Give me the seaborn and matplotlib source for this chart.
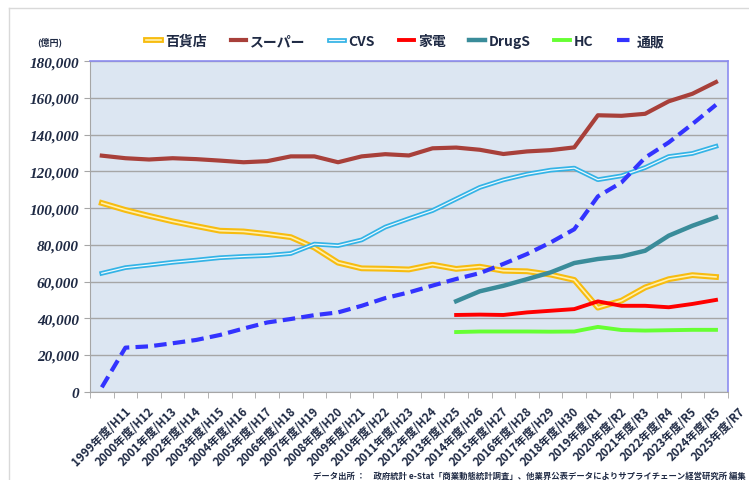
import numpy as np
import pandas as pd
import matplotlib
matplotlib.use("Agg")
import matplotlib.pyplot as plt
import matplotlib.patheffects as pe
import matplotlib.transforms as mtrans
from matplotlib.font_manager import FontProperties
from matplotlib.ticker import FixedLocator
import seaborn as sns

years = ["1999年度/H11", "2000年度/H12", "2001年度/H13", "2002年度/H14", "2003年度/H15",
         "2004年度/H16", "2005年度/H17", "2006年度/H18", "2007年度/H19", "2008年度/H20",
         "2009年度/H21", "2010年度/H22", "2011年度/H23", "2012年度/H24", "2013年度/H25",
         "2014年度/H26", "2015年度/H27", "2016年度/H28", "2017年度/H29", "2018年度/H30",
         "2019年度/R1", "2020年度/R2", "2021年度/R3", "2022年度/R4", "2023年度/R5",
         "2024年度/R5", "2025年度/R7"]

dept = [102800, 99000, 95800, 92800, 90200, 87700, 87300, 85900, 84200, 78500,
        70300, 67200, 67000, 66600, 69200, 66900, 68100, 65900, 65600, 63800,
        60900, 45800, 49600, 56800, 61300, 63500, 62500]
super_ = [128600, 127200, 126500, 127200, 126700, 125900, 125000, 125600, 128200, 128200,
          125000, 128200, 129400, 128700, 132600, 133000, 131800, 129500, 130900, 131600,
          133100, 150600, 150300, 151400, 158200, 162300, 168700]
cvs = [64500, 67600, 69000, 70500, 71700, 73000, 73700, 74200, 75300, 80400,
       79600, 82700, 89700, 94300, 98700, 105000, 111300, 115400, 118500, 120700,
       121800, 115500, 117600, 122100, 128100, 129800, 133700]
nan = np.nan
kaden = [nan] * 15 + [41800, 42000, 41800, 43200, 44100, 45000, 49200, 46800, 46800,
                      46000, 47800, 50000]
drug = [nan] * 15 + [49300, 54700, 57700, 61300, 65000, 70100, 72300, 73700, 76800,
                     85000, 90400, 95000]
hc = [nan] * 15 + [32500, 32800, 32800, 32800, 32700, 32800, 35300, 33600, 33300,
                   33500, 33700, 33700]
ec = [2400, 24000, 24700, 26400, 28200, 30900, 34400, 37700, 39600, 41700,
      43200, 46800, 51000, 54100, 57800, 61400, 64600, 69600, 75000, 81300,
      88500, 106400, 114000, 127500, 135800, 145800, 156300]
yticks = list(range(0, 180001, 20000))

df = pd.DataFrame({"x": np.arange(len(years)), "百貨店": dept, "スーパー": super_,
                   "CVS": cvs, "家電": kaden, "DrugS": drug, "HC": hc, "通販": ec})

plt.rcParams["font.family"] = ["Noto Sans CJK JP", "DejaVu Sans"]
navy = "#1f2a44"
yfont = FontProperties(family=["Liberation Serif", "DejaVu Serif"], style="italic",
                       weight="bold", size=11)

fig = plt.figure(figsize=(7.49, 4.81), dpi=100)
ax = fig.add_axes([90 / 749, 1 - 392.7 / 481, 637.8 / 749, 330.4 / 481])
ax.set_facecolor("#dce6f2")

# double lines (百貨店, CVS) are a thin light core over a wider stroke
styles = {
    "百貨店": dict(color="#fff0b0", lw=1.2,
                 path_effects=[pe.Stroke(linewidth=4.2, foreground="#f7bc10"), pe.Normal()]),
    "スーパー": dict(color="#a8403a", lw=3),
    "CVS": dict(color="#eef9fd", lw=0.9,
                path_effects=[pe.Stroke(linewidth=3.4, foreground="#33b3e6"), pe.Normal()]),
    "家電": dict(color="#ff0000", lw=2.8),
    "DrugS": dict(color="#3a8c9a", lw=3.2),
    "HC": dict(color="#66ff33", lw=2.8),
    "通販": dict(color="#3333ff", lw=3, dashes=(3, 1.5)),
}
for name, st in styles.items():
    sns.lineplot(data=df, x="x", y=name, ax=ax, label=name, legend=False, **st)

ax.set_xlim(-0.5, len(years) - 0.5)
ax.set_ylim(0, 180000)
ax.grid(axis="y", color="#a6a6a6", lw=1)
ax.set_axisbelow(True)
ax.set_xlabel("")
ax.set_ylabel("")

ax.set_yticks(yticks, labels=[f"{v:,}" for v in yticks])
ax.tick_params(axis="y", length=4, color="#a6a6a6", pad=4)
for t in ax.get_yticklabels():
    t.set_fontproperties(yfont)
    t.set_color(navy)

ax.set_xticks(np.arange(len(years)), labels=years, rotation=45, ha="right",
              rotation_mode="anchor", fontsize=8.3, fontweight="bold", color=navy)
ax.tick_params(axis="x", which="major", length=0, pad=9)
ax.xaxis.set_minor_locator(FixedLocator(np.arange(-0.5, len(years), 1)))
ax.tick_params(axis="x", which="minor", length=4, color="#a6a6a6")
offset = mtrans.ScaledTranslation(0.22, 0, fig.dpi_scale_trans)
for t in ax.get_xticklabels():
    t.set_transform(t.get_transform() + offset)

for side in ["left", "bottom"]:
    ax.spines[side].set_color("#a6a6a6")
for side in ["top", "right"]:
    ax.spines[side].set_color("#8c8cf0")
    ax.spines[side].set_linewidth(1.2)

handles, labels = ax.get_legend_handles_labels()
leg = fig.legend(handles, labels, loc="center", bbox_to_anchor=(405 / 749, 1 - 42 / 481),
                 ncol=7, frameon=False, handlelength=1.1, handletextpad=0.3,
                 columnspacing=1.7, prop={"weight": "bold", "size": 10})
for t in leg.get_texts():
    t.set_color(navy)

fig.text(50 / 749, 1 - 42 / 481, "(億円)", ha="center", va="center",
         fontsize=6.5, fontweight="bold", color=navy)
fig.text(746 / 749, 1 - 476 / 481,
         "データ出所 ：　政府統計 e-Stat「商業動態統計調査」、他業界公表データによりサプライチェーン経営研究所 編集",
         ha="right", va="center", fontsize=6, fontweight="bold", color=navy)

# light outer frame lines
fig.add_artist(plt.Line2D([9 / 749, 9 / 749], [0, 1 - 9 / 481], color="#d9d9d9", lw=1))
fig.add_artist(plt.Line2D([9 / 749, 1], [1 - 9 / 481, 1 - 9 / 481], color="#d9d9d9", lw=1))

fig.savefig("out.png", dpi=100)
